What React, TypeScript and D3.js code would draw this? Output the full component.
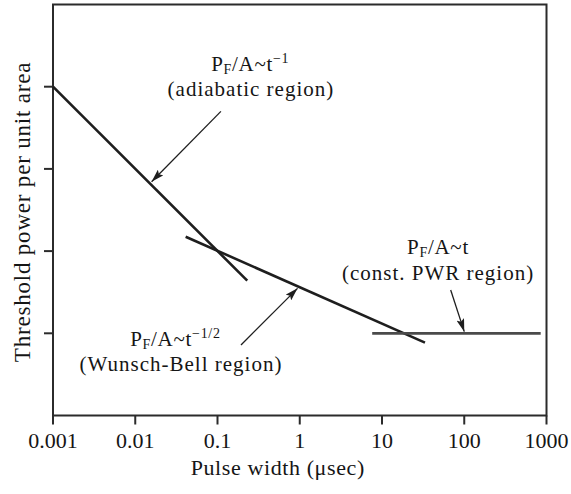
import React from "react";
import * as d3 from "d3";

// ---- data ----
const xTickValues = [0.001, 0.01, 0.1, 1, 10, 100, 1000];
const xTickLabels = ["0.001", "0.01", "0.1", "1", "10", "100", "1000"];
const yTickValues = [1, 2, 3, 4];
const xDomain = [0.001, 1000];
const yDomain = [0, 5];

const adiabaticT = [0.001, 0.23];
const adiabaticP = [4, 1.64];
const wunschT = [0.041, 33.3];
const wunschP = [2.175, 0.886];
const constT = [7.6, 850];
const constP = [1, 1];

const arrowFromT = [0.11, 0.193, 68.4];
const arrowFromP = [3.7, 0.858, 1.527];
const arrowToT = [0.0158, 0.94, 100];
const arrowToP = [2.844, 1.547, 1.02];

const labelExponents = ["−1", "−1/2", ""];
const labelRegions = ["(adiabatic region)", "(Wunsch-Bell region)", "(const. PWR region)"];
const labelT1 = [0.25, 0.0308, 48];
const labelP1 = [4.191, 0.845, 1.964];
const labelT2 = [0.255, 0.036, 48];
const labelP2 = [3.887, 0.541, 1.648];

const xTitle = "Pulse width (μsec)";
const yTitle = "Threshold power per unit area";

export default function App() {
  const W = 571, H = 494;
  const left = 53, right = 546.5, top = 4.5, bottom = 415.5;
  const x = d3.scaleLog().domain(xDomain).range([left, right]);
  const y = d3.scaleLinear().domain(yDomain).range([bottom, top]);
  const line = d3.line<[number, number]>().x(d => x(d[0])).y(d => y(d[1]));
  const zip = (a: number[], b: number[]) => a.map((v, i) => [v, b[i]] as [number, number]);

  const font = "'Liberation Serif', 'Times New Roman', serif";
  const ink = "#1e1e1e";
  const txt = "#151515";

  return (
    <svg width={W} height={H} style={{ position: "absolute", left: 0, top: 0, background: "#fff" }} fontFamily={font}>
      <defs>
        <marker id="ah" viewBox="0 0 13 8" refX="13" refY="4" markerWidth="13" markerHeight="8" markerUnits="userSpaceOnUse" orient="auto">
          <path d="M0,0 L13,4 L0,8 L2.5,4 Z" fill={ink} />
        </marker>
      </defs>
      {/* frame */}
      <rect x={left} y={top} width={right - left} height={bottom - top} fill="none" stroke="#2b2b2b" strokeWidth={2} />
      {/* y ticks */}
      {yTickValues.map((v, i) => (
        <line key={"yt" + i} x1={left - 9} x2={left} y1={y(v)} y2={y(v)} stroke="#2b2b2b" strokeWidth={2} />
      ))}
      {/* x ticks */}
      {xTickValues.map((v, i) => (
        <g key={"xt" + i}>
          <line x1={x(v)} x2={x(v)} y1={bottom} y2={bottom + 9} stroke="#2b2b2b" strokeWidth={2} />
          <text x={x(v)} y={448} textAnchor="middle" fontSize={22} fill={txt}>{xTickLabels[i]}</text>
        </g>
      ))}
      <text x={(left + right) / 2 - 22} y={475} textAnchor="middle" fontSize={22} letterSpacing={0.6} fill={txt}>{xTitle}</text>
      <text transform={`translate(30,212) rotate(-90)`} textAnchor="middle" fontSize={23} letterSpacing={0.8} fill={txt}>{yTitle}</text>

      {/* lines */}
      <path d={line(zip(adiabaticT, adiabaticP)) || ""} stroke={ink} strokeWidth={2.6} fill="none" />
      <path d={line(zip(wunschT, wunschP)) || ""} stroke={ink} strokeWidth={2.6} fill="none" />
      <path d={line(zip(constT, constP)) || ""} stroke="#4a4a4a" strokeWidth={2.8} fill="none" />

      {/* arrows */}
      {arrowFromT.map((t, i) => (
        <line key={"ar" + i} x1={x(t)} y1={y(arrowFromP[i])} x2={x(arrowToT[i])} y2={y(arrowToP[i])}
          stroke={ink} strokeWidth={1.3} markerEnd="url(#ah)" />
      ))}

      {/* labels */}
      {labelRegions.map((r, i) => (
        <g key={"lb" + i} fill={txt}>
          <text x={x(labelT1[i])} y={y(labelP1[i])} textAnchor="middle" fontSize={21} letterSpacing={0.7}>
            P<tspan fontSize={14} dy={3}>F</tspan><tspan dy={-3}>/A~t</tspan>
            {labelExponents[i] ? <tspan fontSize={14} dy={-8}>{labelExponents[i]}</tspan> : null}
          </text>
          <text x={x(labelT2[i])} y={y(labelP2[i])} textAnchor="middle" fontSize={21} letterSpacing={1.0}>{r}</text>
        </g>
      ))}
    </svg>
  );
}
